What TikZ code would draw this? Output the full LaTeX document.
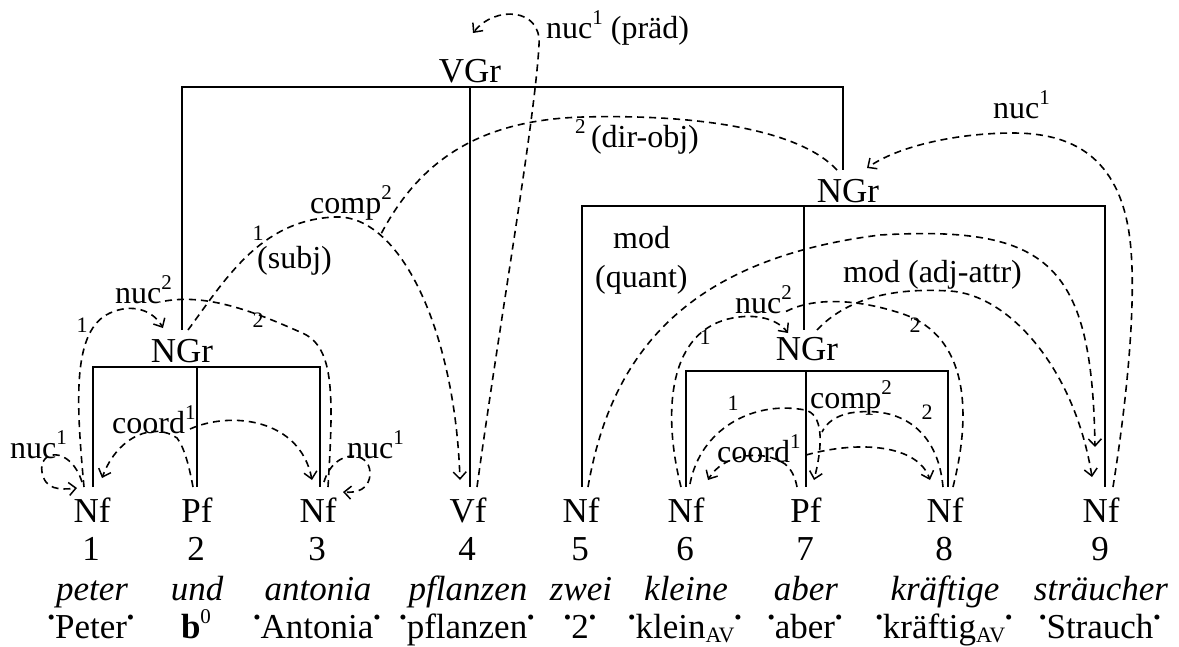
\documentclass[tikz,border=0pt]{standalone}
\usepackage{fontspec}
\setmainfont{Liberation Serif}
\usepackage{graphicx}
\usetikzlibrary{arrows.meta}
\newcommand\supr[1]{\raisebox{0.42em}{\fontsize{21}{21}\selectfont #1}}
\newcommand\subr[1]{\raisebox{-0.12em}{\fontsize{22}{22}\selectfont #1}}
\newcommand\gdot{\raisebox{0.38em}{\scalebox{0.6}{•}}}
\begin{document}
\begin{tikzpicture}[x=1pt,y=-1pt,
 tree/.style={line width=2pt},
 dep/.style={line width=1.6pt, dash pattern=on 7pt off 5pt},
 arr/.style={dep, -{Straight Barb[length=7pt,width=13pt,line width=1.5pt]}},
 cat/.style={font=\fontsize{35}{40}\selectfont, inner sep=0pt, anchor=base},
 lab/.style={font=\fontsize{32}{36}\selectfont, inner sep=0pt, anchor=base west},
 num/.style={font=\fontsize{22}{24}\selectfont, inner sep=0pt}]
\useasboundingbox (0,0) rectangle (1179,646);

% ---------- bottom rows ----------
\foreach \i/\x/\c/\w/\g in {
 1/92/Nf/peter/\gdot Peter\gdot,
 2/197/Pf/und/\textbf{b}\supr{0},
 3/318/Nf/antonia/\gdot Antonia\gdot,
 4/468/Vf/pflanzen/\gdot pflanzen\gdot,
 5/581/Nf/zwei/\gdot 2\gdot,
 6/686/Nf/kleine/\gdot klein\subr{AV}\gdot,
 7/806/Pf/aber/\gdot aber\gdot,
 8/945/Nf/kräftige/\gdot kräftig\subr{AV}\gdot,
 9/1101/Nf/sträucher/\gdot Strauch\gdot}{
 \node[cat] (c\i) at (\x,522) {\c};
 \node[cat] (n\i) at (\x-1,560) {\i};
 \node[cat,font=\fontsize{35}{40}\selectfont\itshape] (w\i) at (\x,600) {\w};
 \node[cat] (g\i) at (\x-1,638) {\g};
}

% ---------- tree ----------
\node[cat] (vgr) at (470,82) {VGr};
\node[cat] (ngrL) at (182,362) {NGr};
\node[cat] (ngrR) at (848,202) {NGr};
\node[cat] (ngrM) at (807,360) {NGr};

\coordinate (t1) at (93,487);  \coordinate (t2) at (197,487);
\coordinate (t3) at (320,487); \coordinate (t4) at (470,487);
\coordinate (t5) at (582,487); \coordinate (t6) at (686,487);
\coordinate (t7) at (806,487); \coordinate (t8) at (948,487);
\coordinate (t9) at (1105,487);
\coordinate (lt) at (182,330); \coordinate (rt) at (843,170);
\coordinate (mt) at (804,330);
\coordinate (vbar) at (470,87); \coordinate (lbar) at (197,367);
\coordinate (rbar) at (804,206); \coordinate (mbar) at (806,371);

\draw[tree] (lt) -- (lt|-vbar) -- (rt|-vbar) -- (rt);
\draw[tree] (vbar) -- (t4);
\draw[tree] (t1) -- (t1|-lbar) -- (t3|-lbar) -- (t3);
\draw[tree] (lbar) -- (t2);
\draw[tree] (t5) -- (t5|-rbar) -- (t9|-rbar) -- (t9);
\draw[tree] (rbar) -- (mt);
\draw[tree] (t6) -- (t6|-mbar) -- (t8|-mbar) -- (t8);
\draw[tree] (mbar) -- (t7);

% ---------- dependency arcs ----------
% nuc^1 loops
\draw[arr] (82,482) .. controls (70,445) and (38,450) .. (42,472) .. controls (45,490) and (60,490) .. (77,488);
\draw[arr] (324,482) .. controls (334,448) and (370,450) .. (370,473) .. controls (370,490) and (356,493) .. (343,492);
% left coord
\draw[arr] (193,487) .. controls (189,465) and (184,447) .. (177,438) .. controls (155,422) and (118,435) .. (102,478);
\draw[arr] (190,429) .. controls (230,411) and (300,418) .. (312,480);
% lower coord
\draw[arr] (797,487) .. controls (795,476) and (791,469) .. (785,464) .. controls (762,448) and (722,455) .. (708,480);
\draw[arr] (806,455) .. controls (860,440) and (918,445) .. (930,480);
% left nuc^2
\draw[arr] (84,487) .. controls (76,400) and (72,330) .. (110,313) .. controls (132,303) and (153,310) .. (163,328);
\draw[dep] (328,487) .. controls (334,390) and (334,345) .. (300,332) .. controls (255,312) and (205,292) .. (160,302);
% lower nuc^2
\draw[arr] (681,487) .. controls (664,420) and (665,335) .. (728,319) .. controls (757,312) and (778,320) .. (788,333);
\draw[dep] (953,487) .. controls (975,400) and (962,332) .. (900,313) .. controls (860,300) and (815,296) .. (785,312);
% subj / comp to Vf
\draw[arr] (188,330) .. controls (225,280) and (260,220) .. (335,217) .. controls (400,214) and (455,330) .. (460,480);
\draw[dep] (837,170) .. controls (800,130) and (700,114) .. (583,117) .. controls (480,120) and (420,160) .. (381,234);
% praed
\draw[arr] (477,487) .. controls (500,320) and (535,120) .. (539,45) .. controls (542,8) and (495,5) .. (473,33);
% right nuc^1
\draw[arr] (1113,487) .. controls (1130,380) and (1136,290) .. (1130,240) .. controls (1120,155) and (1070,133) .. (1013,133) .. controls (960,133) and (900,145) .. (867,168);
% mod quant
\draw[arr] (588,487) .. controls (610,360) and (680,260) .. (880,235) .. controls (1050,225) and (1092,265) .. (1095,447);
% mod adj-attr
\draw[arr] (817,330) .. controls (850,295) and (900,288) .. (950,291) .. controls (1010,295) and (1075,370) .. (1092,477);
% lower comp
\draw[arr] (690,484) .. controls (700,430) and (752,400) .. (805,410) .. controls (822,414) and (824,440) .. (814,480);
\draw[dep] (943,487) .. controls (938,430) and (900,405) .. (850,413) .. controls (836,416) and (827,422) .. (822,432);

% ---------- labels ----------
\node[lab] (lpraed) at (546,38) {nuc\supr{1} (präd)};
\node[lab] (ldir) at (575,147) {\supr{2}\,(dir-obj)};
\node[lab] (lcompA) at (310,213) {comp\supr{2}};
\node[num] (lsubj1) at (258,233) {1};
\node[lab] (lsubj) at (257,268) {(subj)};
\node[lab] (lnucL) at (115,303) {nuc\supr{2}};
\node[num] (lnucL1) at (82,325) {1};
\node[num] (lnucL2) at (258,320) {2};
\node[lab] (lcoordL) at (112,433) {coord\supr{1}};
\node[lab] (lnuc1) at (10,458) {nuc\supr{1}};
\node[lab] (lnuc3) at (347,458) {nuc\supr{1}};
\node[lab] (lnucR) at (993,118) {nuc\supr{1}};
\node[lab] (lmod) at (613,248) {mod};
\node[lab] (lquant) at (595,287) {(quant)};
\node[lab] (ladj) at (843,282) {mod (adj-attr)};
\node[lab] (lnucM) at (735,313) {nuc\supr{2}};
\node[num] (lnucM1) at (705,337) {1};
\node[num] (lnucM2) at (915,325) {2};
\node[num] (lcompM1) at (733,403) {1};
\node[lab] (lcompM) at (810,408) {comp\supr{2}};
\node[num] (lcompM2) at (927,412) {2};
\node[lab] (lcoordM) at (717,462) {coord\supr{1}};
\end{tikzpicture}
\end{document}
